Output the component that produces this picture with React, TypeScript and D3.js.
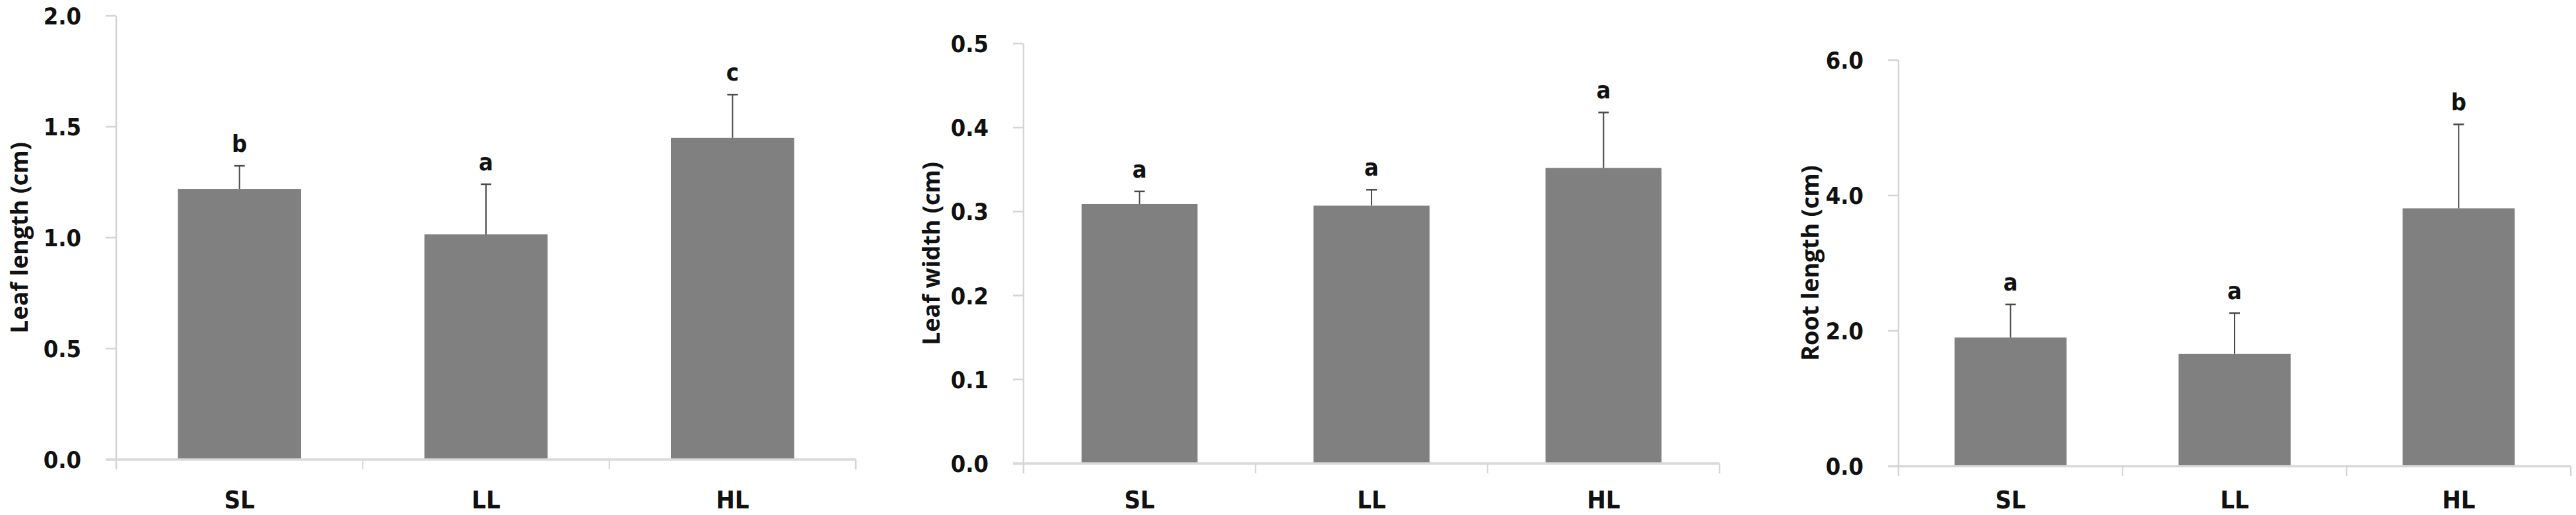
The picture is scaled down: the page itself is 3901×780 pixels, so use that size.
import * as d3 from 'd3';

// data
const categories = ['SL', 'LL', 'HL'];

const leafLength = [1.22, 1.015, 1.45];
const leafLengthErr = [0.104, 0.226, 0.195];
const leafLengthLetters = ['b', 'a', 'c'];
const leafLengthTicks = [0, 0.5, 1.0, 1.5, 2.0];

const leafWidth = [0.309, 0.307, 0.352];
const leafWidthErr = [0.015, 0.019, 0.066];
const leafWidthLetters = ['a', 'a', 'a'];
const leafWidthTicks = [0, 0.1, 0.2, 0.3, 0.4, 0.5];

const rootLength = [1.9, 1.66, 3.81];
const rootLengthErr = [0.49, 0.6, 1.24];
const rootLengthLetters = ['a', 'a', 'b'];
const rootLengthTicks = [0, 2.0, 4.0, 6.0];

const numFont = "'DejaVu Sans Condensed', 'Liberation Sans Narrow', sans-serif";
const titleFont = "'Open Sans', 'DejaVu Sans', sans-serif";

interface PanelProps {
  left: number;
  right: number;
  top: number;
  bottom: number;
  values: number[];
  errors: number[];
  letters: string[];
  ticks: number[];
  title: string;
  titleOffset: number;
}

function Panel({ left, right, top, bottom, values, errors, letters, ticks, title, titleOffset }: PanelProps) {
  const x = d3.scaleBand<string>().domain(categories).range([left, right]).paddingInner(0).paddingOuter(0);
  const y = d3.scaleLinear().domain([0, ticks[ticks.length - 1]]).range([bottom, top]);
  const bw = x.bandwidth() * 0.5;
  const fmt = d3.format('.1f');
  const axisColor = '#d4d4d4';

  return (
    <g>
      {/* bars + error bars + letters */}
      {categories.map((c, i) => {
        const cx = (x(c) as number) + x.bandwidth() / 2;
        const yTop = y(values[i]);
        const yErr = y(values[i] + errors[i]);
        return (
          <g key={c}>
            <rect x={cx - bw / 2} y={yTop} width={bw} height={bottom - yTop} fill="#808080" />
            <line x1={cx} x2={cx} y1={yTop} y2={yErr} stroke="#4a4a4a" strokeWidth={2} />
            <line x1={cx - 8} x2={cx + 8} y1={yErr} y2={yErr} stroke="#4a4a4a" strokeWidth={2.5} />
            <text x={cx} y={yErr - 21} textAnchor="middle" fontFamily={numFont} fontWeight="bold" fontSize={36} fill="#111">
              {letters[i]}
            </text>
            <text x={cx} y={770} textAnchor="middle" fontFamily={numFont} fontWeight="bold" fontSize={38} fill="#111">
              {c}
            </text>
          </g>
        );
      })}

      {/* y axis */}
      <line x1={left} x2={left} y1={top} y2={bottom + 15} stroke={axisColor} strokeWidth={2.5} />
      {ticks.map(t => (
        <g key={t}>
          <line x1={left - 16} x2={left} y1={y(t)} y2={y(t)} stroke={axisColor} strokeWidth={2.5} />
          <text x={left - 53} y={y(t)} dy="0.36em" textAnchor="end" fontFamily={numFont} fontWeight="bold" fontSize={36} fill="#111">
            {fmt(t)}
          </text>
        </g>
      ))}

      {/* x axis */}
      <line x1={left - 16} x2={right} y1={bottom} y2={bottom} stroke="#d9d9d9" strokeWidth={3.5} />
      {categories.map(c => (
        <line key={c} x1={(x(c) as number)} x2={(x(c) as number)} y1={bottom} y2={bottom + 15} stroke={axisColor} strokeWidth={2} />
      ))}
      <line x1={right} x2={right} y1={bottom} y2={bottom + 15} stroke={axisColor} strokeWidth={2.5} />

      {/* y title */}
      <text
        transform={`translate(${left - titleOffset},${(top + bottom) / 2}) rotate(-90)`}
        textAnchor="middle"
        dy="0.35em"
        fontFamily={titleFont}
        fontWeight="bold"
        fontSize={36}
        fill="#111"
      >
        {title}
      </text>
    </g>
  );
}

export default function App() {
  return (
    <svg
      width={3901}
      height={780}
      style={{ position: 'absolute', left: 0, top: 0, display: 'block', background: '#fff' }}
    >
      <rect width={3901} height={780} fill="#fff" />
      <Panel left={176} right={1296} top={24} bottom={696} values={leafLength} errors={leafLengthErr}
        letters={leafLengthLetters} ticks={leafLengthTicks} title="Leaf length (cm)" titleOffset={147} />
      <Panel left={1550} right={2604} top={66} bottom={702} values={leafWidth} errors={leafWidthErr}
        letters={leafWidthLetters} ticks={leafWidthTicks} title="Leaf width (cm)" titleOffset={140} />
      <Panel left={2875} right={3893} top={91} bottom={706} values={rootLength} errors={rootLengthErr}
        letters={rootLengthLetters} ticks={rootLengthTicks} title="Root length (cm)" titleOffset={134} />
    </svg>
  );
}
